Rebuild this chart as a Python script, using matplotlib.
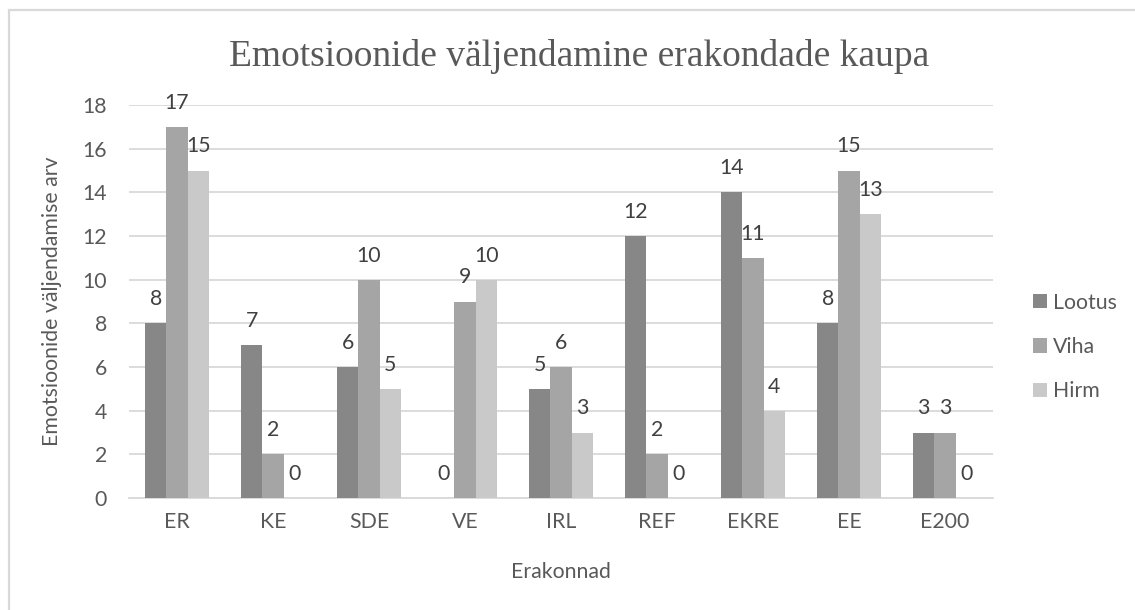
import matplotlib
matplotlib.use("Agg")
import matplotlib.pyplot as plt
from matplotlib.patches import Rectangle
import numpy as np

categories = ["ER", "KE", "SDE", "VE", "IRL", "REF", "EKRE", "EE", "E200"]
lootus = [8, 7, 6, 0, 5, 12, 14, 8, 3]
viha = [17, 2, 10, 9, 6, 2, 11, 15, 3]
hirm = [15, 0, 5, 10, 3, 0, 4, 13, 0]
series_names = ["Lootus", "Viha", "Hirm"]
series_colors = ["#878787", "#a5a5a5", "#c9c9c9"]

W, H = 1135, 610
FS = 15.3
fig = plt.figure(figsize=(W / 100, H / 100), dpi=100)
plt.rcParams['font.family'] = ['Lato', 'DejaVu Sans']

# outer chart border (cut at right/bottom)
fig.patches.append(Rectangle((9 / W, -0.05), 1.1, 1 - 9.5 / H + 0.05,
                             transform=fig.transFigure, fill=False,
                             edgecolor="#d9d9d9", linewidth=1.6, zorder=0))

ax = fig.add_axes([129 / W, 1 - 498 / H, (993 - 129) / W, (498 - 105) / H])
x = np.arange(len(categories))
bw = 0.222
all_series = [lootus, viha, hirm]
for i, (vals, name, col) in enumerate(zip(all_series, series_names, series_colors)):
    pos = x + (i - 1) * bw
    ax.bar(pos, vals, width=bw, color=col, label=name, zorder=3)
    for px, v in zip(pos, vals):
        ax.annotate(str(v), (px, v), xytext=(0, 13), textcoords="offset points",
                    ha="center", va="baseline", fontsize=FS, color="#404040", zorder=4)

ax.set_xlim(-0.5, len(categories) - 0.5)
ax.set_ylim(0, 18)
ax.set_yticks(range(0, 19, 2))
ax.set_xticks(x)
ax.set_xticklabels(categories)
ax.yaxis.grid(True, color="#d9d9d9", linewidth=1.3, zorder=0)
ax.set_axisbelow(True)
for s in ["top", "right", "left"]:
    ax.spines[s].set_visible(False)
ax.spines["bottom"].set_color("#d9d9d9")
ax.spines["bottom"].set_linewidth(1.3)
ax.tick_params(axis="both", length=0, labelsize=FS, labelcolor="#595959")
ax.tick_params(axis="y", pad=16)
ax.tick_params(axis="x", pad=10)

fig.text(52 / W, 1 - 301 / H, "Emotsioonide väljendamise arv", rotation=90,
         ha="center", va="center", fontsize=FS, color="#595959")
fig.text(561 / W, 1 - 572 / H, "Erakonnad", ha="center", va="center",
         fontsize=FS, color="#595959")
fig.text(579 / W, 1 - 57 / H, "Emotsioonide väljendamine erakondade kaupa",
         ha="center", va="center", fontsize=27, color="#595959",
         family=["Liberation Serif", "DejaVu Serif"])

leg = ax.legend(loc="center left", bbox_to_anchor=(1033 / W, 1 - 347 / H),
                bbox_transform=fig.transFigure, frameon=False, fontsize=FS,
                labelspacing=1.15, handlelength=0.66, handleheight=0.66,
                handletextpad=0.3, borderpad=0, borderaxespad=0)
for t in leg.get_texts():
    t.set_color("#595959")

fig.savefig("out.png", dpi=100)
